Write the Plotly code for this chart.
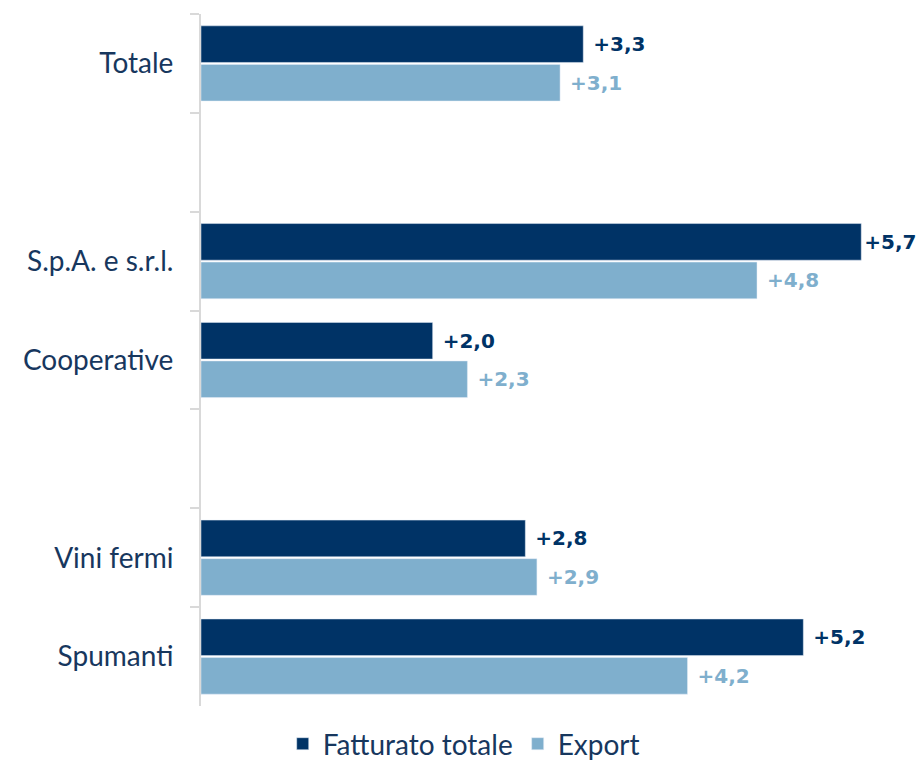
import plotly.graph_objects as go

categories = ["Totale", " ", "S.p.A. e s.r.l.", "Cooperative", "  ", "Vini fermi", "Spumanti"]
fatturato = [3.3, None, 5.7, 2.0, None, 2.8, 5.2]
export = [3.1, None, 4.8, 2.3, None, 2.9, 4.2]

DARK = "#003366"
LIGHT = "#7FAFCD"
TEXT = "#17375E"


def fmt(vals):
    # leading space as padding, dropped where the label would run off the page
    out = []
    for v in vals:
        if v is None:
            out.append("")
        else:
            pad = "" if v > 5.5 else " "
            out.append(pad + "+" + f"{v:.1f}".replace(".", ","))
    return out


fig = go.Figure()
fig.add_trace(go.Bar(
    y=categories, x=fatturato, orientation="h", name="Fatturato totale",
    marker=dict(color=DARK),
    text=fmt(fatturato), textposition="outside", cliponaxis=False,
    textfont=dict(family="DejaVu Sans", size=20, color=DARK, weight="bold"),
))
fig.add_trace(go.Bar(
    y=categories, x=export, orientation="h", name="Export",
    marker=dict(color=LIGHT),
    text=fmt(export), textposition="outside", cliponaxis=False,
    textfont=dict(family="DejaVu Sans", size=20, color=LIGHT, weight="bold"),
))

fig.update_layout(
    width=918, height=769,
    margin=dict(l=201, r=22, t=14, b=63),
    barmode="group", bargap=0.22, bargroupgap=0.05,
    plot_bgcolor="white", paper_bgcolor="white",
    font=dict(family="Lato", size=28, color=TEXT),
    showlegend=True,
    legend=dict(
        orientation="h", x=0.378, xanchor="center",
        yref="container", y=-0.01, yanchor="bottom",
        font=dict(family="Lato", size=28, color=TEXT),
        traceorder="normal", itemwidth=30,
    ),
)
fig.update_xaxes(range=[0, 6], visible=False, automargin=False)
fig.update_yaxes(
    type="category", categoryorder="array", categoryarray=categories,
    autorange="reversed", automargin=False,
    showline=True, linecolor="#D9D9D9", linewidth=2,
    ticks="outside", tickson="boundaries", ticklen=9, tickcolor="#D9D9D9", tickwidth=2,
    showgrid=False, ticklabelstandoff=20,
    tickfont=dict(family="Lato", size=28, color=TEXT),
)

fig.write_html(
    "out.html",
    config={"displayModeBar": False},
    post_script="document.body.style.margin='0';",
)
